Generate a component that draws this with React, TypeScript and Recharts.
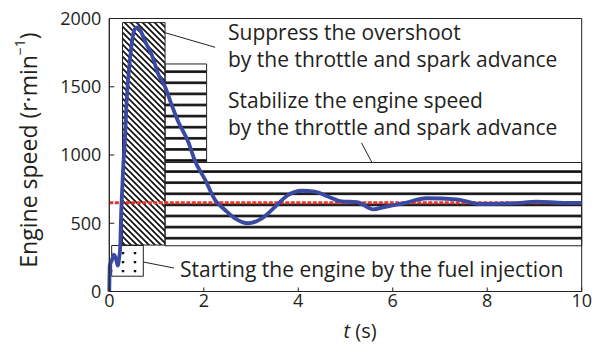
import React from 'react';
import { LineChart, Line, XAxis, YAxis, ReferenceArea, ReferenceLine } from 'recharts';

// time (s)
const timeS = [
  0, 0.01, 0.05, 0.1, 0.14, 0.18, 0.21, 0.23, 0.25, 0.28, 0.3, 0.32, 0.37, 0.44, 0.53, 0.59, 0.65,
  0.76, 0.9, 1.04, 1.18, 1.32, 1.46, 1.67, 1.81, 2.03, 2.24, 2.45, 2.66, 2.94, 3.23, 3.51, 3.79,
  4.07, 4.35, 4.64, 4.92, 5.24, 5.59, 5.8, 6.22, 6.72, 7.35, 7.85, 8.55, 9.05, 9.61, 10,
];
// engine speed (r/min)
const engineSpeed = [
  0, 190, 225, 270, 240, 190, 250, 320, 560, 800, 950, 1040, 1415, 1708, 1916, 1935, 1916,
  1830, 1733, 1590, 1500, 1366, 1244, 1097, 960, 817, 670, 597, 536, 500, 536, 621, 707,
  738, 731, 694, 660, 655, 602, 617, 646, 683, 675, 641, 646, 658, 650, 650,
];
const targetSpeed = 650;

const xTicks = [0, 2, 4, 6, 8, 10];
const yTicks = [0, 500, 1000, 1500, 2000];

// control phase regions [t1, t2, speed1, speed2]
const startingRegion = [0.05, 0.72, 112, 337];
const overshootRegion = [0.28, 1.18, 340, 1970];
const stabilizeUpper = [1.18, 2.06, 945, 1667];
const stabilizeLower = [1.18, 10, 335, 945];

// leader lines [t1, s1, t2, s2]
const leaderSuppress = [1.18, 1896, 2.24, 1789];
const leaderStabilize = [5.34, 1088, 5.56, 945];
const leaderStarting = [0.72, 216, 1.37, 172];

const data = timeS.map((t, i) => ({ t, speed: engineSpeed[i] }));

const FONT = '"Open Sans", Lato, sans-serif';
const TXT = '#231f20';

const seg = (a: number[]) => [
  { x: a[0], y: a[1] },
  { x: a[2], y: a[3] },
];

export default function App() {
  return (
    <div style={{ width: 604, height: 352, margin: '-8px 0 0 -8px' }}>
      <LineChart
        width={604}
        height={352}
        data={data}
        margin={{ top: 18.5, right: 22.3, bottom: 20.5, left: 49.3 }}
      >
        <defs>
          <pattern id="stripes" patternUnits="userSpaceOnUse" width="20" height="11.1">
            <rect x="0" y="3.8" width="20" height="2.6" fill="#111" />
          </pattern>
          <pattern id="hatch" patternUnits="userSpaceOnUse" width="6" height="6">
            <path d="M0,0 L6,6 M-1,5 L1,7 M5,-1 L7,1" stroke="#111" strokeWidth="1.7" />
          </pattern>
          <pattern id="dots" patternUnits="userSpaceOnUse" width="12" height="9">
            <circle cx="3" cy="1" r="1.4" fill="#111" />
          </pattern>
        </defs>
        <XAxis
          dataKey="t"
          type="number"
          domain={[0, 10]}
          ticks={xTicks}
          height={40}
          tickSize={-4}
          tickMargin={7}
          axisLine={{ stroke: '#222', strokeWidth: 1 }}
          tickLine={{ stroke: '#222' }}
          tick={{ fill: TXT, fontSize: 18, fontFamily: FONT }}
        />
        <YAxis
          type="number"
          domain={[0, 2000]}
          ticks={yTicks}
          width={60}
          tickSize={-5}
          tickMargin={13}
          axisLine={{ stroke: '#222', strokeWidth: 1 }}
          tickLine={{ stroke: '#222' }}
          tick={{ fill: TXT, fontSize: 18, fontFamily: FONT }}
        />
        <ReferenceArea x1={0} x2={10} y1={0} y2={2000} fill="none" stroke="#222" strokeWidth={1} fillOpacity={0} />
        <ReferenceArea
          x1={stabilizeLower[0]} x2={stabilizeLower[1]} y1={stabilizeLower[2]} y2={stabilizeLower[3]}
          fill="url(#stripes)" fillOpacity={1} stroke="#222" strokeWidth={1}
        />
        <ReferenceArea
          x1={stabilizeUpper[0]} x2={stabilizeUpper[1]} y1={stabilizeUpper[2]} y2={stabilizeUpper[3]}
          fill="url(#stripes)" fillOpacity={1} stroke="#222" strokeWidth={1}
        />
        <ReferenceArea
          x1={overshootRegion[0]} x2={overshootRegion[1]} y1={overshootRegion[2]} y2={overshootRegion[3]}
          fill="url(#hatch)" fillOpacity={1} stroke="#222" strokeWidth={1}
        />
        <ReferenceArea
          x1={startingRegion[0]} x2={startingRegion[1]} y1={startingRegion[2]} y2={startingRegion[3]}
          fill="url(#dots)" fillOpacity={1} stroke="#222" strokeWidth={1}
        />
        <ReferenceLine segment={seg(leaderSuppress)} stroke="#222" strokeWidth={1} />
        <ReferenceLine segment={seg(leaderStabilize)} stroke="#222" strokeWidth={1} />
        <ReferenceLine segment={seg(leaderStarting)} stroke="#222" strokeWidth={1} />
        <ReferenceLine y={targetSpeed} stroke="#e5372c" strokeWidth={3} strokeDasharray="4 1.5" />
        <Line
          type="monotone"
          dataKey="speed"
          stroke="#3a4aa3"
          strokeWidth={3.8}
          dot={false}
          isAnimationActive={false}
        />
        <text
          x={28}
          y={150}
          transform="rotate(-90 28 150)"
          textAnchor="middle"
          dominantBaseline="central"
          fill={TXT}
          fontSize={23}
          fontFamily={FONT}
        >
          Engine speed (r·min
          <tspan dy={-9} fontSize={14}>−1</tspan>
          <tspan dy={9}>)</tspan>
        </text>
        <text x={360} y={338} textAnchor="middle" fill={TXT} fontSize={20} fontFamily={FONT}>
          <tspan fontStyle="italic">t</tspan> (s)
        </text>
        <g fill={TXT} fontSize={21} fontFamily={FONT}>
          <text x={228} y={40}>Suppress the overshoot</text>
          <text x={228} y={67}>by the throttle and spark advance</text>
          <text x={228} y={108}>Stabilize the engine speed</text>
          <text x={228} y={135}>by the throttle and spark advance</text>
          <text x={180} y={277}>Starting the engine by the fuel injection</text>
        </g>
      </LineChart>
    </div>
  );
}
